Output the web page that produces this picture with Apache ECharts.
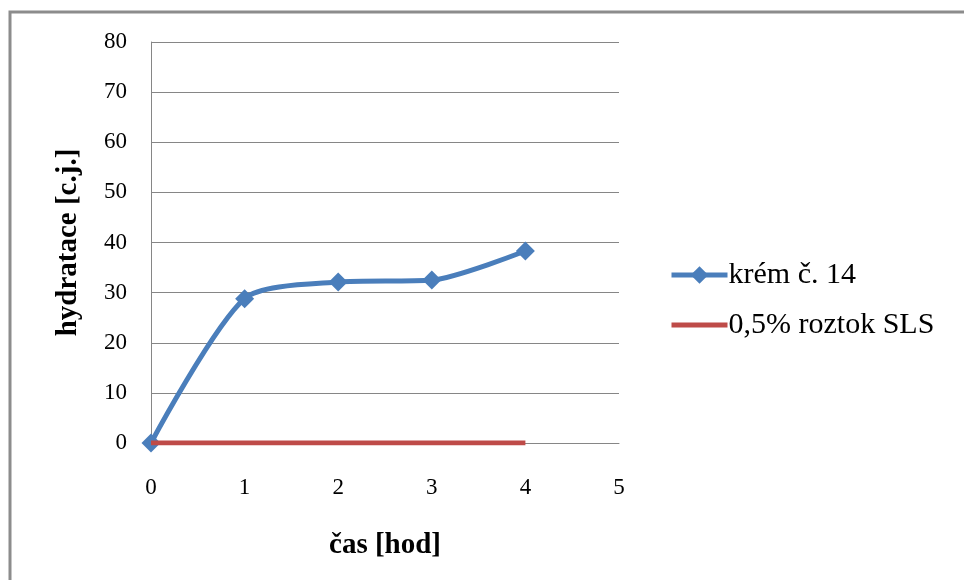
<!DOCTYPE html>
<html>
<head>
<meta charset="utf-8">
<script src="https://cdn.jsdelivr.net/npm/echarts@6/dist/echarts.min.js"></script>
<style>
  html, body { margin: 0; padding: 0; background: #fff; }
  #chart { width: 964px; height: 580px; }
</style>
</head>
<body>
<div id="chart"></div>
<script>
// hours
const hours = [0, 1, 2, 3, 4];
// hydration values
const kremValues = [0, 28.8, 32.1, 32.5, 38.3];
const slsValues = [0, 0, 0, 0, 0];
const seriesNames = ['krém č. 14', '0,5% roztok SLS'];

const toPairs = (xs, ys) => xs.map((x, i) => [x, ys[i]]);
const serif = 'Liberation Serif, Times New Roman, serif';

const chart = echarts.init(document.getElementById('chart'));
chart.setOption({
  animation: false,
  textStyle: { fontFamily: serif },
  graphic: [{
    type: 'rect',
    shape: { x: 10, y: 12, width: 1000, height: 700 },
    style: { fill: 'none', stroke: '#8c8c8c', lineWidth: 3 }
  }],
  grid: { left: 151, right: 345, top: 42, bottom: 137 },
  legend: {
    orient: 'vertical',
    left: 664,
    top: 255,
    itemGap: 20,
    itemWidth: 56,
    itemHeight: 22,
    lineStyle: { width: 5 },
    textStyle: { fontFamily: serif, fontSize: 30, color: '#000', padding: [0, 0, 0, -4] },
    data: [
      { name: seriesNames[0] },
      { name: seriesNames[1], itemStyle: { opacity: 0 } }
    ]
  },
  xAxis: {
    type: 'value',
    min: 0, max: 5, interval: 1,
    name: 'čas [hod]',
    nameLocation: 'middle',
    nameGap: 88,
    nameTextStyle: { fontFamily: serif, fontSize: 29, fontWeight: 'bold', color: '#000' },
    axisLine: { lineStyle: { color: '#868686' } },
    axisTick: { show: false },
    splitLine: { show: false },
    axisLabel: { fontFamily: serif, fontSize: 23, color: '#000', margin: 33 }
  },
  yAxis: {
    type: 'value',
    min: 0, max: 80, interval: 10,
    name: 'hydratace [c.j.]',
    nameLocation: 'middle',
    nameGap: 68,
    nameTextStyle: { fontFamily: serif, fontSize: 29, fontWeight: 'bold', color: '#000' },
    axisLine: { show: true, lineStyle: { color: '#868686' } },
    axisTick: { show: false },
    splitLine: { lineStyle: { color: '#868686' } },
    axisLabel: { fontFamily: serif, fontSize: 23, color: '#000', margin: 24 }
  },
  series: [
    {
      name: seriesNames[0],
      type: 'line',
      data: toPairs(hours, kremValues),
      smooth: 0.25,
      symbol: 'diamond',
      symbolSize: 19,
      z: 3,
      itemStyle: { color: '#4a7ebb' },
      lineStyle: { color: '#4a7ebb', width: 5 }
    },
    {
      name: seriesNames[1],
      type: 'line',
      data: toPairs(hours, slsValues),
      symbol: 'none',
      z: 4,
      itemStyle: { color: '#be4b48' },
      lineStyle: { color: '#be4b48', width: 5 }
    }
  ]
});
</script>
</body>
</html>
